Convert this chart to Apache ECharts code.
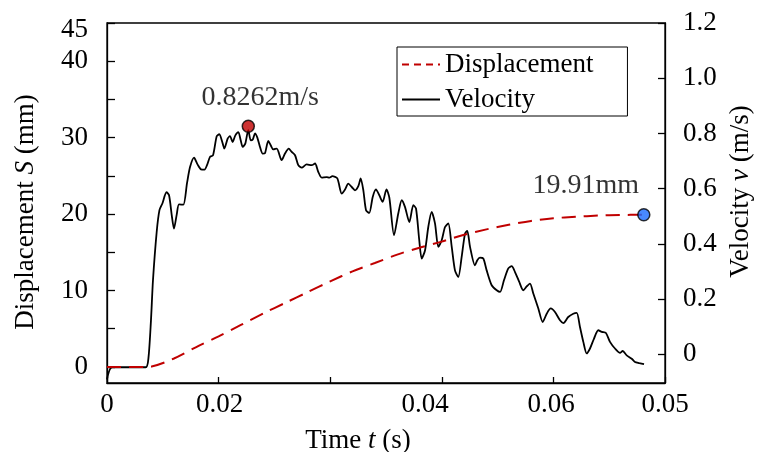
<!DOCTYPE html>
<html>
<head>
<meta charset="utf-8">
<script src="https://cdn.jsdelivr.net/npm/echarts@6/dist/echarts.min.js"></script>
<style>html,body{margin:0;padding:0;background:#fff}#c{width:757px;height:452px}</style>
</head>
<body>
<div id="c"></div>
<script>
// ---- data ----
const velTime = [0,0.00045,0.00347,0.00372,0.00394,0.00412,0.00445,0.0047,0.00497,0.00533,0.00556,0.0058,0.006,0.00625,0.00645,0.00684,0.00717,0.00744,0.0078,0.00811,0.00842,0.00874,0.00896,0.00923,0.0095,0.00983,0.01006,0.01037,0.01051,0.01082,0.01102,0.01126,0.0115,0.01177,0.01198,0.01216,0.01239,0.01266,0.01288,0.01306,0.01326,0.01347,0.01371,0.01395,0.01416,0.01445,0.01467,0.0149,0.01521,0.01565,0.01595,0.01628,0.01655,0.01685,0.01714,0.01745,0.01789,0.01834,0.01864,0.01893,0.01924,0.01969,0.01992,0.02019,0.02064,0.02103,0.02133,0.02162,0.02193,0.02222,0.02252,0.02273,0.02297,0.02321,0.0235,0.02381,0.0241,0.0244,0.0247,0.02504,0.0253,0.02572,0.0261,0.02641,0.0267,0.02709,0.02745,0.02769,0.02798,0.0282,0.0285,0.02879,0.02909,0.02939,0.02969,0.02999,0.03029,0.03058,0.03089,0.03118,0.03148,0.03178,0.03208,0.03228,0.03253,0.03297,0.03318,0.03342,0.03372,0.03402,0.03447,0.03492,0.03522,0.03557,0.03596,0.03626,0.03656,0.03694,0.0373,0.03761,0.0379,0.0382,0.03865,0.03904,0.0394,0.03976,0.04014,0.04059,0.04089,0.04133,0.04178,0.04209,0.04238,0.04268,0.04298,0.04328,0.04364,0.04402,0.04433,0.04471,0.04507,0.04552,0.04597,0.04621,0.04657,0.04702,0.04731,0.0477,0.04812];
const velocity = [-0.091,-0.047,-0.047,-0.011,0.123,0.268,0.442,0.522,0.547,0.587,0.576,0.504,0.455,0.507,0.543,0.542,0.62,0.678,0.712,0.688,0.67,0.669,0.685,0.715,0.721,0.79,0.797,0.763,0.745,0.782,0.79,0.769,0.793,0.805,0.775,0.751,0.763,0.812,0.775,0.778,0.8,0.785,0.751,0.727,0.729,0.773,0.757,0.742,0.745,0.703,0.727,0.745,0.733,0.721,0.685,0.676,0.688,0.685,0.691,0.661,0.64,0.642,0.64,0.645,0.637,0.582,0.597,0.618,0.606,0.594,0.609,0.637,0.594,0.522,0.512,0.57,0.597,0.576,0.552,0.597,0.567,0.431,0.51,0.558,0.534,0.479,0.54,0.528,0.413,0.347,0.377,0.461,0.516,0.474,0.389,0.413,0.461,0.474,0.389,0.304,0.28,0.353,0.437,0.447,0.389,0.322,0.341,0.35,0.347,0.304,0.25,0.232,0.226,0.268,0.311,0.319,0.298,0.262,0.232,0.246,0.256,0.22,0.166,0.117,0.147,0.166,0.153,0.123,0.113,0.135,0.147,0.15,0.099,0.045,0.003,0.021,0.057,0.087,0.081,0.077,0.045,0.021,0.005,0.012,-0.004,-0.016,-0.028,-0.032,-0.036];
const dispTime = [0,0.002,0.0035,0.004,0.006,0.008,0.010,0.012,0.014,0.016,0.018,0.020,0.022,0.024,0.026,0.028,0.030,0.032,0.034,0.036,0.038,0.040,0.042,0.044,0.046,0.0481];
const displacement = [0,0,0,0.05,1.1,2.6,4.0,5.5,7.0,8.4,9.8,11.2,12.5,13.6,14.7,15.6,16.4,17.3,18.0,18.6,19.1,19.45,19.65,19.8,19.88,19.91];
const peakPoint = [0.01266, 0.8262];
const endPoint = [0.0481, 19.91];
const peakText = '0.8262m/s';
const endText = '19.91mm';
const seriesNames = ['Displacement', 'Velocity'];
const xTickValues = [0, 0.01, 0.02, 0.03, 0.04, 0.05];
const xTickLabels = ['0', '0.02', '0.04', '0.06', '0.05'];
const leftTickValues = [0,5,10,15,20,25,30,35,40,45];
const leftTickLabels = ['0','10','20','30','40','45'];
const rightTickValues = [0,0.2,0.4,0.6,0.8,1.0,1.2];
const rightTickLabels = ['0','0.2','0.4','0.6','0.8','1.0','1.2'];

// ---- chart ----
const FONT = '"Liberation Serif", "Times New Roman", serif';
const xLabelAt = [0, 0.0101, 0.0285, 0.0398, 0.05];
const chart = echarts.init(document.getElementById('c'), null, {renderer: 'canvas'});
const zip = (a, b) => a.map((v, i) => [v, b[i]]);
const txt = {fontFamily: FONT, fontSize: 27, color: '#000'};
const axisLine = {show: true, onZero: false, lineStyle: {color: '#000', width: 1.3}};
const leftNums = leftTickLabels.map(Number);
const annot = {a: {fontFamily: FONT, fontSize: 28, color: '#000'}};

chart.setOption({
  animation: false,
  backgroundColor: '#fff',
  grid: {left: 107, right: 92, top: 23, bottom: 69, show: true, borderColor: '#000', borderWidth: 1.3, containLabel: false, outerBoundsMode: 'none'},
  legend: {
    data: [{name: seriesNames[0], lineStyle: {type: [7, 5]}}, {name: seriesNames[1]}],
    orient: 'vertical', left: 397, top: 47,
    itemWidth: 38, itemHeight: 14, itemGap: 8,
    padding: [4, 34, 3, 4], borderColor: '#000', borderWidth: 1, backgroundColor: '#fff',
    itemStyle: {opacity: 0},
    textStyle: Object.assign({}, txt)
  },
  xAxis: {
    type: 'value', min: 0, max: 0.05,
    name: '{n|Time }{i|t}{n| (s)}', nameLocation: 'middle', nameGap: 44,
    nameTextStyle: {padding: [0, 56, 0, 0], rich: {n: Object.assign({}, txt), i: Object.assign({fontStyle: 'italic'}, txt)}},
    axisLine: axisLine,
    axisTick: {inside: true, length: 6, customValues: xTickValues, lineStyle: {color: '#000', width: 1.3}},
    axisLabel: Object.assign({margin: 8, customValues: xLabelAt, formatter: (v) => {
      const i = xLabelAt.findIndex(p => Math.abs(p - v) < 1e-6);
      return i >= 0 ? xTickLabels[i] : '';
    }}, txt),
    splitLine: {show: false}
  },
  yAxis: [{
    type: 'value', min: -2.1, max: 45, position: 'left',
    name: '{n|Displacement }{i|S}{n| (mm)}', nameLocation: 'middle', nameGap: 68,
    nameTextStyle: {padding: [0, 18, 0, 0], rich: {n: Object.assign({}, txt), i: Object.assign({fontStyle: 'italic'}, txt)}},
    axisLine: axisLine,
    axisTick: {inside: true, length: 8, customValues: leftTickValues, lineStyle: {color: '#000', width: 1.3}},
    axisLabel: Object.assign({margin: 19, customValues: leftNums, formatter: (v) => {
      const i = leftNums.indexOf(v);
      if (i < 0) return '';
      return i === leftNums.length - 1 ? '{top|' + leftTickLabels[i] + '}' : leftTickLabels[i];
    }, rich: {top: Object.assign({padding: [14, 0, 0, 0]}, txt)}}, txt),
    splitLine: {show: false}
  }, {
    type: 'value', min: -0.104, max: 1.2, position: 'right',
    name: '{n|Velocity }{i|v}{n| (m/s)}', nameLocation: 'middle', nameGap: 62,
    nameTextStyle: {padding: [0, 0, 0, 23], rich: {n: Object.assign({}, txt), i: Object.assign({fontStyle: 'italic'}, txt)}},
    axisLine: axisLine,
    axisTick: {inside: true, length: 7, customValues: rightTickValues, lineStyle: {color: '#000', width: 1.3}},
    axisLabel: Object.assign({margin: 18, customValues: rightTickValues, formatter: (v) => {
      const i = rightTickValues.findIndex(p => Math.abs(p - v) < 1e-9);
      return i >= 0 ? rightTickLabels[i] : '';
    }}, txt),
    splitLine: {show: false}
  }],
  series: [{
    name: seriesNames[0], type: 'line', yAxisIndex: 0, data: zip(dispTime, displacement),
    smooth: 0.3, symbol: 'none', z: 3,
    lineStyle: {color: '#c00000', width: 2, type: [14, 8]}, itemStyle: {color: '#c00000'}
  }, {
    name: seriesNames[1], type: 'line', yAxisIndex: 1, data: zip(velTime, velocity),
    smooth: 0.25, symbol: 'none', z: 2,
    lineStyle: {color: '#000', width: 1.8}, itemStyle: {color: '#000'}
  }, {
    name: 'peak', type: 'scatter', yAxisIndex: 1, data: [peakPoint], symbolSize: 12, z: 5,
    itemStyle: {color: '#c00000', borderColor: '#000', borderWidth: 1.5},
    label: {show: true, position: 'top', distance: 8, offset: [12, 0], formatter: '{a|' + peakText + '}', rich: annot, color: '#000', textBorderWidth: 0}
  }, {
    name: 'end', type: 'scatter', yAxisIndex: 0, data: [endPoint], symbolSize: 12, z: 5,
    itemStyle: {color: '#1a6cff', borderColor: '#000', borderWidth: 1.5},
    label: {show: true, position: 'top', distance: 8, offset: [-58, 0], formatter: '{a|' + endText + '}', rich: annot, color: '#000', textBorderWidth: 0}
  }]
});
</script>
</body>
</html>
